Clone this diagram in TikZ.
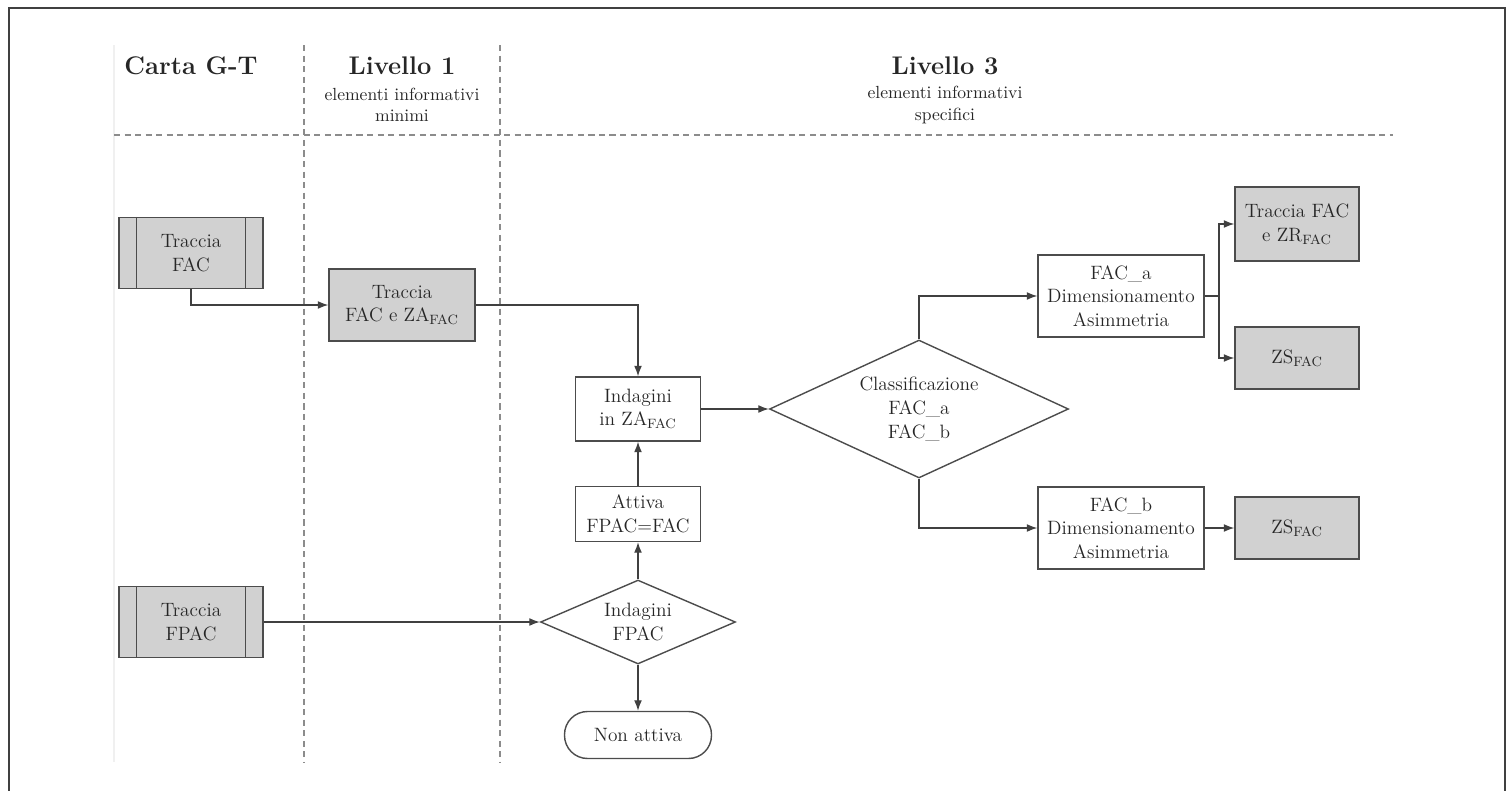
\documentclass[tikz,border=0pt]{standalone}
\usepackage{tikz}
\usetikzlibrary{arrows.meta,shapes.geometric}

\begin{document}
\begin{tikzpicture}[x=0.02cm,y=-0.02cm,
  every node/.style={align=center,inner sep=2pt,text=black!85,font=\fontsize{11}{13.5}\selectfont},
  blocco/.style={draw=black!70,line width=0.8pt,inner sep=0pt},
  grigio/.style={blocco,fill=black!18},
  decis/.style={draw=black!70,line width=0.8pt,diamond,inner sep=0pt},
  freccia/.style={draw=black!75,line width=0.7pt,-{Latex[length=6pt,width=4.5pt]}},
  divisore/.style={draw=black!45,line width=0.8pt,dash pattern=on 3.5pt off 2.5pt},
  titolo/.style={font=\fontsize{14.5}{17}\selectfont\bfseries},
  sotto/.style={font=\fontsize{10}{12}\selectfont}]
\useasboundingbox (0,0) rectangle (1508,791);
\draw[line width=1pt,black!75] (9,791) -- (9,8) -- (1505,8) -- (1505,791);
\draw[black!6,line width=0.6pt] (114,45) -- (114,762);

% intestazioni
\node[titolo] (gt) at (191,66) {Carta G-T};
\node[titolo] (liv1) at (402,66) {Livello 1};
\node[sotto] (liv1s) at (402,105) {elementi informativi\\minimi};
\node[titolo] (liv3) at (945,66) {Livello 3};
\node[sotto] (liv3s) at (945,105) {elementi informativi\\specifici};
\draw[divisore] (114,135) -- (1393,135);
\draw[divisore] (304,45) -- (304,762);
\draw[divisore] (500,45) -- (500,762);

% blocchi
\node[grigio,minimum width=2.88cm,minimum height=1.42cm] (tfac) at (191,253) {Traccia\\FAC};
\draw[black!70,line width=0.8pt] ([xshift=0.36cm]tfac.north west) -- ([xshift=0.36cm]tfac.south west);
\draw[black!70,line width=0.8pt] ([xshift=-0.36cm]tfac.north east) -- ([xshift=-0.36cm]tfac.south east);
\node[grigio,minimum width=2.88cm,minimum height=1.42cm] (tfpac) at (191,622) {Traccia\\FPAC};
\draw[black!70,line width=0.8pt] ([xshift=0.36cm]tfpac.north west) -- ([xshift=0.36cm]tfpac.south west);
\draw[black!70,line width=0.8pt] ([xshift=-0.36cm]tfpac.north east) -- ([xshift=-0.36cm]tfpac.south east);
\node[grigio,minimum width=2.92cm,minimum height=1.44cm] (za) at (402,305) {Traccia\\FAC e ZA\textsubscript{FAC}};
\node[blocco,minimum width=2.5cm,minimum height=1.28cm] (indza) at (638,409) {Indagini\\in ZA\textsubscript{FAC}};
\node[blocco,minimum width=2.5cm,minimum height=1.1cm] (attiva) at (638,514) {Attiva\\FPAC=FAC};
\node[decis,aspect=2.3,minimum width=3.9cm,minimum height=1.68cm] (indfpac) at (638,622) {Indagini\\FPAC};
\node[blocco,rounded corners=0.46cm,minimum width=2.94cm,minimum height=0.94cm] (nonatt) at (638,735) {Non attiva};
\node[decis,aspect=2.16,minimum width=5.98cm,minimum height=2.76cm] (classif) at (919,409) {Classificazione\\FAC\_a\\FAC\_b};
\node[blocco,minimum width=3.32cm,minimum height=1.64cm] (faca) at (1121,296) {FAC\_a\\Dimensionamento\\Asimmetria};
\node[blocco,minimum width=3.32cm,minimum height=1.64cm] (facb) at (1121,528) {FAC\_b\\Dimensionamento\\Asimmetria};
\node[grigio,minimum width=2.48cm,minimum height=1.48cm] (zr) at (1297,224) {Traccia FAC\\e ZR\textsubscript{FAC}};
\node[grigio,minimum width=2.48cm,minimum height=1.24cm] (zsa) at (1297,358) {ZS\textsubscript{FAC}};
\node[grigio,minimum width=2.48cm,minimum height=1.24cm] (zsb) at (1297,528) {ZS\textsubscript{FAC}};

% collegamenti
\draw[freccia] (tfac.south) |- (za.west);
\draw[freccia] (za.east) -| (indza.north);
\draw[freccia] (attiva.north) -- (indza.south);
\draw[freccia] (indfpac.north) -- (attiva.south);
\draw[freccia] (indfpac.south) -- (nonatt.north);
\draw[freccia] (tfpac.east) -- (indfpac.west);
\draw[freccia] (indza.east) -- (classif.west);
\draw[freccia] (classif.north) |- (faca.west);
\draw[freccia] (classif.south) |- (facb.west);
\coordinate (ramo) at (1219,296);
\draw[black!75,line width=0.7pt] (faca.east) -- (ramo);
\draw[freccia] (ramo) |- (zr.west);
\draw[freccia] (ramo) |- (zsa.west);
\draw[freccia] (facb.east) -- (zsb.west);
\end{tikzpicture}
\end{document}
